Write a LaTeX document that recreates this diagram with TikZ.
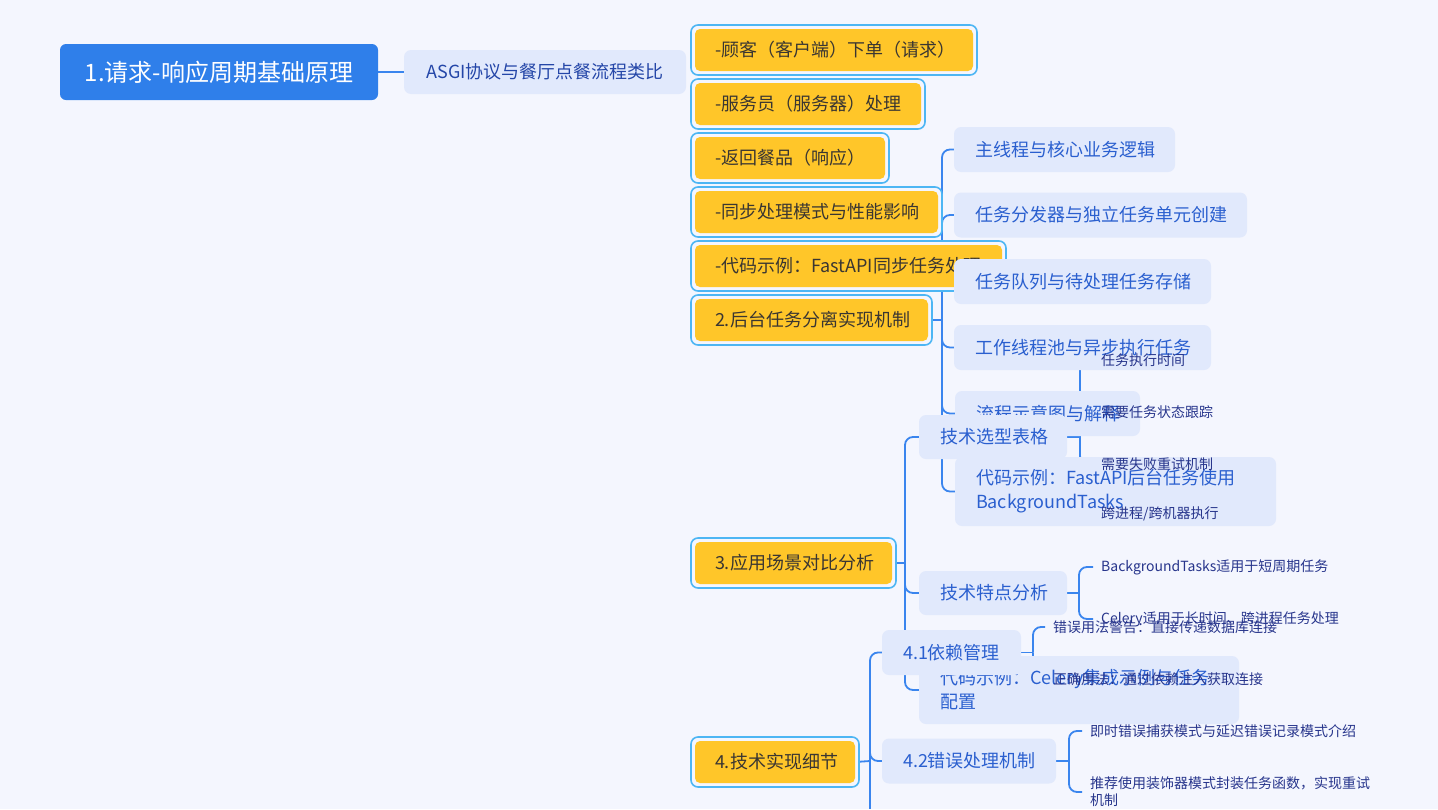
\documentclass[tikz,border=0pt]{standalone}
\usepackage{fontspec}
\setmainfont{Noto Sans CJK SC}
\pgfdeclarelayer{bg}
\pgfdeclarelayer{edges}
\pgfsetlayers{bg,edges,main}
\definecolor{bgc}{HTML}{F4F6FE}
\definecolor{linec}{HTML}{3A85EE}
\definecolor{rootc}{HTML}{2F7FEA}
\definecolor{lbfill}{HTML}{E1E9FC}
\definecolor{lbtext}{HTML}{2A5FCF}
\definecolor{asgitext}{HTML}{2446A8}
\definecolor{yfillc}{HTML}{FFC629}
\definecolor{ytext}{HTML}{3A3632}
\definecolor{framec}{HTML}{4DB6F4}
\definecolor{leaftext}{HTML}{27358C}
\tikzset{
  conn/.style={draw=linec, line width=1.8pt, rounded corners=8pt},
  rootbox/.style={fill=rootc, text=white, rounded corners=6pt, inner sep=0pt, font=\fontsize{24}{28}\selectfont},
  lbox/.style={fill=lbfill, text=lbtext, rounded corners=7pt, inner xsep=21pt, inner ysep=0pt, minimum height=45pt, font=\fontsize{18}{24}\selectfont},
  ybox/.style={fill=yfillc, text=ytext, rounded corners=5pt, inner xsep=20pt, inner ysep=0pt, minimum height=42pt, font=\fontsize{18}{24}\selectfont},
  yf/.style={draw=framec, fill=bgc, line width=1.6pt, rounded corners=7pt},
  leaf/.style={text=leaftext, inner xsep=8pt, inner ysep=0pt, font=\fontsize{14}{17}\selectfont, anchor=west, align=left},
}
\begin{document}
\begin{tikzpicture}[x=1pt,y=-1pt]
\useasboundingbox (0,0) rectangle (1438,809);
\begin{pgfonlayer}{bg}
\fill[bgc] (0,0) rectangle (1438,809);
\end{pgfonlayer}

% root level
\node[rootbox, minimum width=318pt, minimum height=56pt] (root) at (219,72) {1.请求-响应周期基础原理};
\node[lbox, text=asgitext, minimum width=282pt, minimum height=44pt, inner xsep=0pt] (asgi) at (545,72) {ASGI协议与餐厅点餐流程类比};

% yellow boxes
\draw[yf] (691,25) rectangle (977,75);
\node[ybox] (y1) at (834,50) {\makebox[238pt][l]{-顾客（客户端）下单（请求）}};
\draw[yf] (691,79) rectangle (925,129);
\node[ybox] (y2) at (808,104) {\makebox[186pt][l]{-服务员（服务器）处理}};
\draw[yf] (691,133) rectangle (889,183);
\node[ybox] (y3) at (790,158) {\makebox[150pt][l]{-返回餐品（响应）}};
\draw[yf] (691,187) rectangle (942,237);
\node[ybox] (y4) at (816.5,212) {\makebox[203pt][l]{-同步处理模式与性能影响}};
\draw[yf] (691,241) rectangle (1006,291);
\node[ybox] (y5) at (848.5,266) {\makebox[267pt][l]{-代码示例：FastAPI同步任务处理}};
\draw[yf] (691,295) rectangle (932,345);
\node[ybox] (y6) at (811.5,320) {\makebox[193pt][l]{2.后台任务分离实现机制}};
\draw[yf] (691,538) rectangle (896,588);
\node[ybox] (y7) at (793.5,563) {\makebox[157pt][l]{3.应用场景对比分析}};
\draw[yf] (691,737) rectangle (859,787);
\node[ybox] (y8) at (775,762) {\makebox[120pt][l]{4.技术实现细节}};

% level boxes
\node[lbox] (main) at (1064.5,149.5) {\makebox[179pt][l]{主线程与核心业务逻辑}};
\node[lbox] (disp) at (1100.5,215) {\makebox[251pt][l]{任务分发器与独立任务单元创建}};
\node[lbox] (queue) at (1082.5,281.5) {\makebox[215pt][l]{任务队列与待处理任务存储}};
\node[lbox] (work) at (1082.5,347.5) {\makebox[215pt][l]{工作线程池与异步执行任务}};
\node[lbox] (flow) at (1047.5,413.5) {\makebox[143pt][l]{流程示意图与解释}};
\node[lbox, text width=279pt, align=left, minimum height=69pt] (fast) at (1115.5,491.5) {代码示例：FastAPI后台任务使用\\BackgroundTasks};
\node[lbox, minimum height=44pt] (sel) at (993,437) {\makebox[106pt][l]{技术选型表格}};
\node[lbox, minimum height=44pt] (feat) at (993,593) {\makebox[106pt][l]{技术特点分析}};
\node[lbox, text width=278pt, align=left, minimum height=68pt] (cel) at (1079,690) {代码示例：Celery集成示例与任务\\配置};
\node[lbox] (n41) at (951.5,652.5) {\makebox[97pt][l]{4.1依赖管理}};
\node[lbox] (n42) at (969,761) {\makebox[132pt][l]{4.2错误处理机制}};

% leaves
\node[leaf] (l1) at (1093,360) {任务执行时间};
\node[leaf] (l2) at (1093,412) {需要任务状态跟踪};
\node[leaf] (l3) at (1093,464) {需要失败重试机制};
\node[leaf] (l4) at (1093,514) {跨进程/跨机器执行};
\node[leaf] (l5) at (1093,567) {BackgroundTasks适用于短周期任务};
\node[leaf] (l6) at (1093,619) {Celery适用于长时间、跨进程任务处理};
\node[leaf] (l7) at (1045,627) {错误用法警告：直接传递数据库连接};
\node[leaf] (l8) at (1045,679) {正确用法：通过依赖注入获取连接};
\node[leaf] (l9) at (1082,731) {即时错误捕获模式与延迟错误记录模式介绍};
\node[leaf] (l10) at (1082,792) {推荐使用装饰器模式封装任务函数，实现重试\\机制};

% spine coordinates
\coordinate (s2) at (942,320);
\coordinate (s3) at (905,563);
\coordinate (s4) at (870,761);
\coordinate (s4end) at (870,809);
\coordinate (ssel) at (1080,437);
\coordinate (sfeat) at (1079,593);
\coordinate (s41) at (1033,652.5);
\coordinate (s42) at (1069,761);

\begin{pgfonlayer}{edges}
\draw[conn] (root.east) -- (asgi.west);
\draw[conn] (y6.east) -- (s2);
\foreach \c in {main,disp,queue,work,flow,fast} \draw[conn] (s2) |- (\c.west);
\draw[conn] (y7.east) -- (s3);
\foreach \c in {sel,feat,cel} \draw[conn] (s3) |- (\c.west);
\draw[conn] (y8.east) -- (s4);
\foreach \c in {n41,n42} \draw[conn] (s4) |- (\c.west);
\draw[conn] (s4) -- (s4end);
\draw[conn] (sel.east) -- (ssel);
\foreach \c in {l1,l2,l3,l4} \draw[conn] (ssel) |- (\c.west);
\draw[conn] (feat.east) -- (sfeat);
\foreach \c in {l5,l6} \draw[conn] (sfeat) |- (\c.west);
\draw[conn] (n41.east) -- (s41);
\foreach \c in {l7,l8} \draw[conn] (s41) |- (\c.west);
\draw[conn] (n42.east) -- (s42);
\foreach \c in {l9,l10} \draw[conn] (s42) |- (\c.west);
\end{pgfonlayer}
\end{tikzpicture}
\end{document}
